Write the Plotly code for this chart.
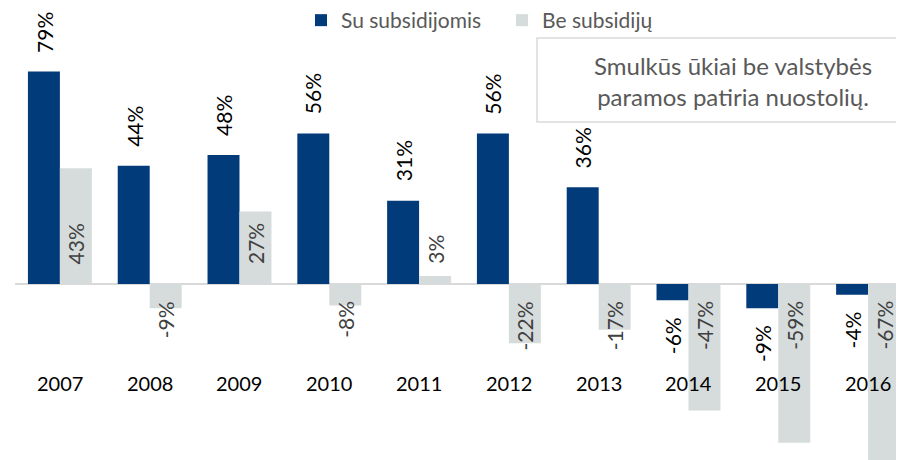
import plotly.graph_objects as go

years = ["2007", "2008", "2009", "2010", "2011", "2012", "2013", "2014", "2015", "2016"]
with_subsidies = [79, 44, 48, 56, 31, 56, 36, -6, -9, -4]
without_subsidies = [43, -9, 27, -8, 3, -22, -17, -47, -59, -67]
series_names = ["Su subsidijomis", "Be subsidijų"]
note_text = "Smulkūs ūkiai be valstybės<br>paramos patiria nuostolių."

BLUE = "#023B7A"
GRAY = "#D6DCDC"
FONT = "Lato"

# page is drawn with an 8px body margin; figure sized to fill the window
W, H = 896, 452
PL = 7           # plot left inside figure
PW = W - PL      # plot width


def px(page_x):
    return (page_x - 8 - PL) / PW


def py(page_y):
    return 1 - (page_y - 8) / H


fig = go.Figure()
fig.add_trace(go.Bar(x=years, y=with_subsidies, name=series_names[0],
                     marker=dict(color=BLUE, line=dict(width=0))))
fig.add_trace(go.Bar(x=years, y=without_subsidies, name=series_names[1],
                     marker=dict(color=GRAY, line=dict(width=0))))

annotations = []
HALF = 16  # half bar width in px
for i, v in enumerate(with_subsidies):
    annotations.append(dict(
        x=i, y=v, xref="x", yref="y", text=f"{v}%", textangle=-90,
        showarrow=False, xshift=-HALF,
        yanchor="bottom" if v >= 0 else "top",
        yshift=17 if v >= 0 else -15,
        font=dict(family=FONT, size=21, color="#000000")))
for i, v in enumerate(without_subsidies):
    annotations.append(dict(
        x=i, y=0, xref="x", yref="y", text=f"{v}%", textangle=-90,
        showarrow=False, xshift=HALF,
        yanchor="bottom" if v >= 0 else "top",
        yshift=18 if v >= 0 else -15,
        font=dict(family=FONT, size=21, color="#404040")))
for i, yr in enumerate(years):
    annotations.append(dict(
        x=i, y=py(383), xref="x", yref="paper", text=yr,
        showarrow=False, yanchor="middle",
        font=dict(family=FONT, size=20, color="#000000")))
annotations.append(dict(
    x=px(733), y=py(81), xref="paper", yref="paper",
    text=note_text, showarrow=False, xanchor="center", yanchor="middle",
    align="center", font=dict(family=FONT, size=24, color="#595959")))

fig.update_layout(
    width=W, height=H,
    margin=dict(l=PL, r=0, t=0, b=0, autoexpand=False),
    paper_bgcolor="white", plot_bgcolor="white",
    barmode="group", bargap=0.288, bargroupgap=0,
    showlegend=True,
    legend=dict(orientation="h", x=px(301), y=1 + 8 / H,
                xanchor="left", yanchor="top", entrywidth=156,
                font=dict(family=FONT, size=21, color="#595959"),
                bgcolor="rgba(0,0,0,0)", traceorder="normal"),
    xaxis=dict(type="category", range=[-0.5, 9.4], showticklabels=False,
               showgrid=False, zeroline=False, showline=False, ticks=""),
    yaxis=dict(range=[-65.4, 102.6], showticklabels=False, showgrid=False,
               zeroline=True, zerolinecolor="#D9D9D9", zerolinewidth=2,
               showline=False, ticks=""),
    shapes=[dict(type="rect", xref="paper", yref="paper",
                 x0=px(537), x1=1.02, y0=py(122), y1=py(38),
                 line=dict(color="#D9D9D9", width=1.5),
                 fillcolor="rgba(0,0,0,0)", layer="below")],
    annotations=annotations,
)

fig.write_html("out.html")
